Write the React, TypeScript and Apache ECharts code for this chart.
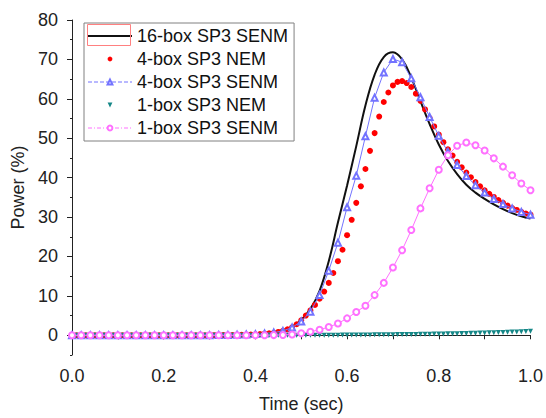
import React, { useEffect, useRef } from "react";
import * as echarts from "echarts";

// time grids (sec)
const timeCoarse = [
  0.0, 0.02, 0.04, 0.06, 0.08, 0.1, 0.12, 0.14, 0.16, 0.18, 0.2, 0.22, 0.24, 0.26, 0.28, 0.3, 0.32, 0.34,
  0.36, 0.38, 0.4, 0.42, 0.44, 0.46, 0.48, 0.5, 0.52, 0.54, 0.56, 0.58, 0.6, 0.62, 0.64, 0.66, 0.68, 0.7,
  0.72, 0.74, 0.76, 0.78, 0.8, 0.82, 0.84, 0.86, 0.88, 0.9, 0.92, 0.94, 0.96, 0.98, 1.0,
];
const timeFine = [
  0.0, 0.01, 0.02, 0.03, 0.04, 0.05, 0.06, 0.07, 0.08, 0.09, 0.1, 0.11, 0.12, 0.13, 0.14, 0.15, 0.16, 0.17,
  0.18, 0.19, 0.2, 0.21, 0.22, 0.23, 0.24, 0.25, 0.26, 0.27, 0.28, 0.29, 0.3, 0.31, 0.32, 0.33, 0.34, 0.35,
  0.36, 0.37, 0.38, 0.39, 0.4, 0.41, 0.42, 0.43, 0.44, 0.45, 0.46, 0.47, 0.48, 0.49, 0.5, 0.51, 0.52, 0.53,
  0.54, 0.55, 0.56, 0.57, 0.58, 0.59, 0.6, 0.61, 0.62, 0.63, 0.64, 0.65, 0.66, 0.67, 0.68, 0.69, 0.7, 0.71,
  0.72, 0.73, 0.74, 0.75, 0.76, 0.77, 0.78, 0.79, 0.8, 0.81, 0.82, 0.83, 0.84, 0.85, 0.86, 0.87, 0.88, 0.89,
  0.9, 0.91, 0.92, 0.93, 0.94, 0.95, 0.96, 0.97, 0.98, 0.99, 1.0,
];

// 16-box SP3 SENM (on timeCoarse)
const box16SENM = [
  0, 0, 0, 0, 0, 0, 0, 0, 0, 0, 0, 0, 0.01, 0.02, 0.03, 0.05, 0.07, 0.1, 0.15, 0.22, 0.33, 0.5, 0.8, 1.3,
  2.2, 3.9, 6.7, 11.3, 18.8, 28.6, 38.0, 48.0, 58.3, 66.1, 70.6, 71.8, 70.0, 65.4, 59.4, 53.6, 48.4, 44.2,
  40.9, 38.2, 36.2, 34.6, 33.2, 32.0, 31.0, 30.2, 29.6,
];
// 4-box SP3 NEM (on timeFine)
const box4NEM = [
  0, 0, 0, 0, 0, 0, 0, 0, 0, 0, 0, 0, 0, 0, 0, 0, 0, 0, 0, 0, 0, 0, 0, 0, 0, 0, 0, 0, 0, 0, 0,
  0.02, 0.03, 0.04, 0.05, 0.07, 0.09, 0.12, 0.15, 0.2, 0.25, 0.32, 0.4, 0.5, 0.65, 0.85, 1.1, 1.5, 2.0, 2.8,
  3.8, 5.0, 6.3, 7.7, 9.3, 11.1, 13.3, 15.8, 18.8, 21.7, 25.4, 29.3, 33.6, 37.8, 42.2, 46.8, 51.3, 55.5,
  59.2, 61.6, 63.4, 64.3, 64.5, 64.0, 63.0, 61.3, 59.5, 57.3, 55.1, 53.0, 50.9, 49.0, 47.2, 45.6, 44.0,
  42.6, 41.3, 40.1, 38.9, 37.8, 36.8, 35.9, 35.1, 34.3, 33.6, 32.9, 32.3, 31.8, 31.3, 30.9, 30.6,
];
// 4-box SP3 SENM (on timeCoarse)
const box4SENM = [
  0, 0, 0, 0, 0, 0, 0, 0, 0, 0, 0, 0, 0.01, 0.01, 0.02, 0.04, 0.06, 0.09, 0.13, 0.2, 0.3, 0.45, 0.7, 1.1,
  2.0, 3.5, 6.0, 10.2, 16.4, 23.5, 32.5, 40.5, 50.5, 60.3, 66.7, 70.1, 69.3, 65.2, 60.4, 55.4, 50.6, 46.5,
  43.2, 40.4, 38.1, 36.2, 34.6, 33.3, 32.2, 31.3, 30.6,
];
// 1-box SP3 NEM (on timeFine)
const box1NEM = [
  0, 0, 0, 0, 0, 0, 0, 0, 0, 0, 0, 0, 0, 0, 0, 0, 0, 0, 0, 0, 0, 0, 0, 0, 0, 0, 0, 0, 0, 0, 0, 0, 0, 0, 0,
  0, 0, 0, 0, 0, 0, 0, 0, 0, 0, 0, 0, 0, 0, 0, 0,
  0.01, 0.01, 0.02, 0.02, 0.03, 0.03, 0.04, 0.04, 0.05, 0.05, 0.06, 0.07, 0.08, 0.09, 0.1, 0.11, 0.12, 0.13,
  0.14, 0.15, 0.17, 0.18, 0.2, 0.21, 0.23, 0.25, 0.27, 0.29, 0.31, 0.33, 0.35, 0.37, 0.4, 0.42, 0.45, 0.48,
  0.51, 0.54, 0.57, 0.6, 0.63, 0.66, 0.7, 0.74, 0.78, 0.82, 0.86, 0.9, 0.95, 1.0,
];
// 1-box SP3 SENM (on timeCoarse)
const box1SENM = [
  0, 0, 0, 0, 0, 0, 0, 0, 0, 0, 0, 0, 0, 0, 0, 0, 0, 0, 0, 0.01, 0.02, 0.03, 0.05, 0.08, 0.2, 0.5, 0.9,
  1.4, 2.1, 3.0, 4.3, 5.9, 7.5, 10.2, 13.3, 17.2, 21.6, 26.7, 32.2, 37.3, 42.0, 45.7, 48.1, 48.9, 48.2,
  46.9, 44.9, 42.8, 40.6, 38.5, 36.8,
];

const yLabelValues = [0, 10, 20, 30, 40, 50, 60, 70, 80];
const yMinorValues = [-5, 5, 15, 25, 35, 45, 55, 65, 75];
const xLabelValues = [0, 0.2, 0.4, 0.6, 0.8, 1.0];

const seriesNames = [
  "16-box SP3 SENM",
  "4-box SP3 NEM",
  "4-box SP3 SENM",
  "1-box SP3 NEM",
  "1-box SP3 SENM",
];

const pair = (t: number[], v: number[]) => t.map((x, i) => [x, v[i]]);

const FONT = "'Liberation Sans', Arial, sans-serif";

export default function App() {
  const ref = useRef<HTMLDivElement>(null);
  useEffect(() => {
    document.body.style.margin = "0";
    if (!ref.current) return;
    const chart = echarts.init(ref.current, null, { renderer: "svg" });
    chart.setOption({
      animation: false,
      backgroundColor: "#ffffff",
      textStyle: { fontFamily: FONT },
      grid: { left: 72, right: 15, top: 20, bottom: 60 },
      legend: {
        orient: "vertical",
        left: 84,
        top: 23,
        padding: [4, 6, 4, 3],
        itemGap: 5,
        itemWidth: 44,
        itemHeight: 6,
        borderColor: "#808080",
        borderWidth: 1,
        textStyle: { fontSize: 18, color: "#111", fontFamily: FONT },
        data: [
          { name: seriesNames[0], itemStyle: { opacity: 0 } },
          { name: seriesNames[1], lineStyle: { opacity: 0 } },
          { name: seriesNames[2], lineStyle: { type: "dashed", width: 1 } },
          { name: seriesNames[3], lineStyle: { opacity: 0 } },
          { name: seriesNames[4], lineStyle: { type: [4, 2, 1, 2], width: 1 } },
        ],
      },
      graphic: [
        {
          type: "rect",
          shape: { x: 87.5, y: 24.5, width: 43, height: 21 },
          style: { fill: "none", stroke: "#ff8080", lineWidth: 1 },
          z: 100,
        },
      ],
      xAxis: {
        type: "value",
        min: 0,
        max: 1,
        interval: 0.1,
        name: "Time (sec)",
        nameLocation: "middle",
        nameGap: 40,
        nameTextStyle: { fontSize: 18, color: "#222", fontFamily: FONT },
        axisLine: { lineStyle: { color: "#222", width: 1 } },
        axisTick: { length: 4, lineStyle: { color: "#222" } },
        axisLabel: {
          customValues: xLabelValues,
          fontSize: 18,
          color: "#222",
          margin: 12,
          fontFamily: FONT,
          formatter: (v: number) => v.toFixed(1),
        },
        splitLine: { show: false },
      },
      yAxis: [
        {
          type: "value",
          min: -5,
          max: 80,
          name: "Power (%)",
          nameLocation: "middle",
          nameGap: 45,
          nameTextStyle: { fontSize: 18, color: "#222", fontFamily: FONT },
          axisLine: { lineStyle: { color: "#222", width: 1 } },
          axisTick: { customValues: yLabelValues, length: 5, lineStyle: { color: "#222" } },
          axisLabel: {
            customValues: yLabelValues,
            fontSize: 18,
            color: "#222",
            margin: 14,
            fontFamily: FONT,
          },
          splitLine: { show: false },
        },
        {
          type: "value",
          min: -5,
          max: 80,
          position: "left",
          axisLine: { show: false },
          axisTick: { customValues: yMinorValues, length: 2, lineStyle: { color: "#222" } },
          axisLabel: { show: false },
          splitLine: { show: false },
        },
      ],
      series: [
        {
          name: seriesNames[0],
          type: "line",
          data: pair(timeCoarse, box16SENM),
          smooth: 0.4,
          symbol: "none",
          lineStyle: { color: "#111", width: 2 },
          itemStyle: { color: "#111" },
          z: 2,
        },
        {
          name: seriesNames[1],
          type: "line",
          data: pair(timeFine, box4NEM),
          symbol: "circle",
          symbolSize: 6,
          showAllSymbol: true,
          lineStyle: { width: 0, opacity: 0 },
          itemStyle: { color: "#ff0000", opacity: 1 },
          z: 3,
        },
        {
          name: seriesNames[2],
          type: "line",
          data: pair(timeCoarse, box4SENM),
          symbol: "emptyTriangle",
          symbolSize: 6,
          showAllSymbol: true,
          lineStyle: { color: "#7373ff", width: 1 },
          itemStyle: { color: "#7373ff", borderColor: "#7373ff", borderWidth: 1 },
          z: 4,
        },
        {
          name: seriesNames[3],
          type: "line",
          data: pair(timeFine, box1NEM),
          symbol: "triangle",
          symbolRotate: 180,
          symbolSize: 5,
          showAllSymbol: true,
          lineStyle: { width: 0, opacity: 0 },
          itemStyle: { color: "#158787", opacity: 1 },
          z: 5,
        },
        {
          name: seriesNames[4],
          type: "line",
          data: pair(timeCoarse, box1SENM),
          symbol: "emptyCircle",
          symbolSize: 6,
          showAllSymbol: true,
          lineStyle: { color: "#ff70ff", width: 1 },
          itemStyle: { color: "#ff70ff", borderColor: "#ff70ff", borderWidth: 1 },
          z: 6,
        },
      ],
    });
    return () => chart.dispose();
  }, []);
  return <div ref={ref} style={{ width: 546, height: 418 }} />;
}
